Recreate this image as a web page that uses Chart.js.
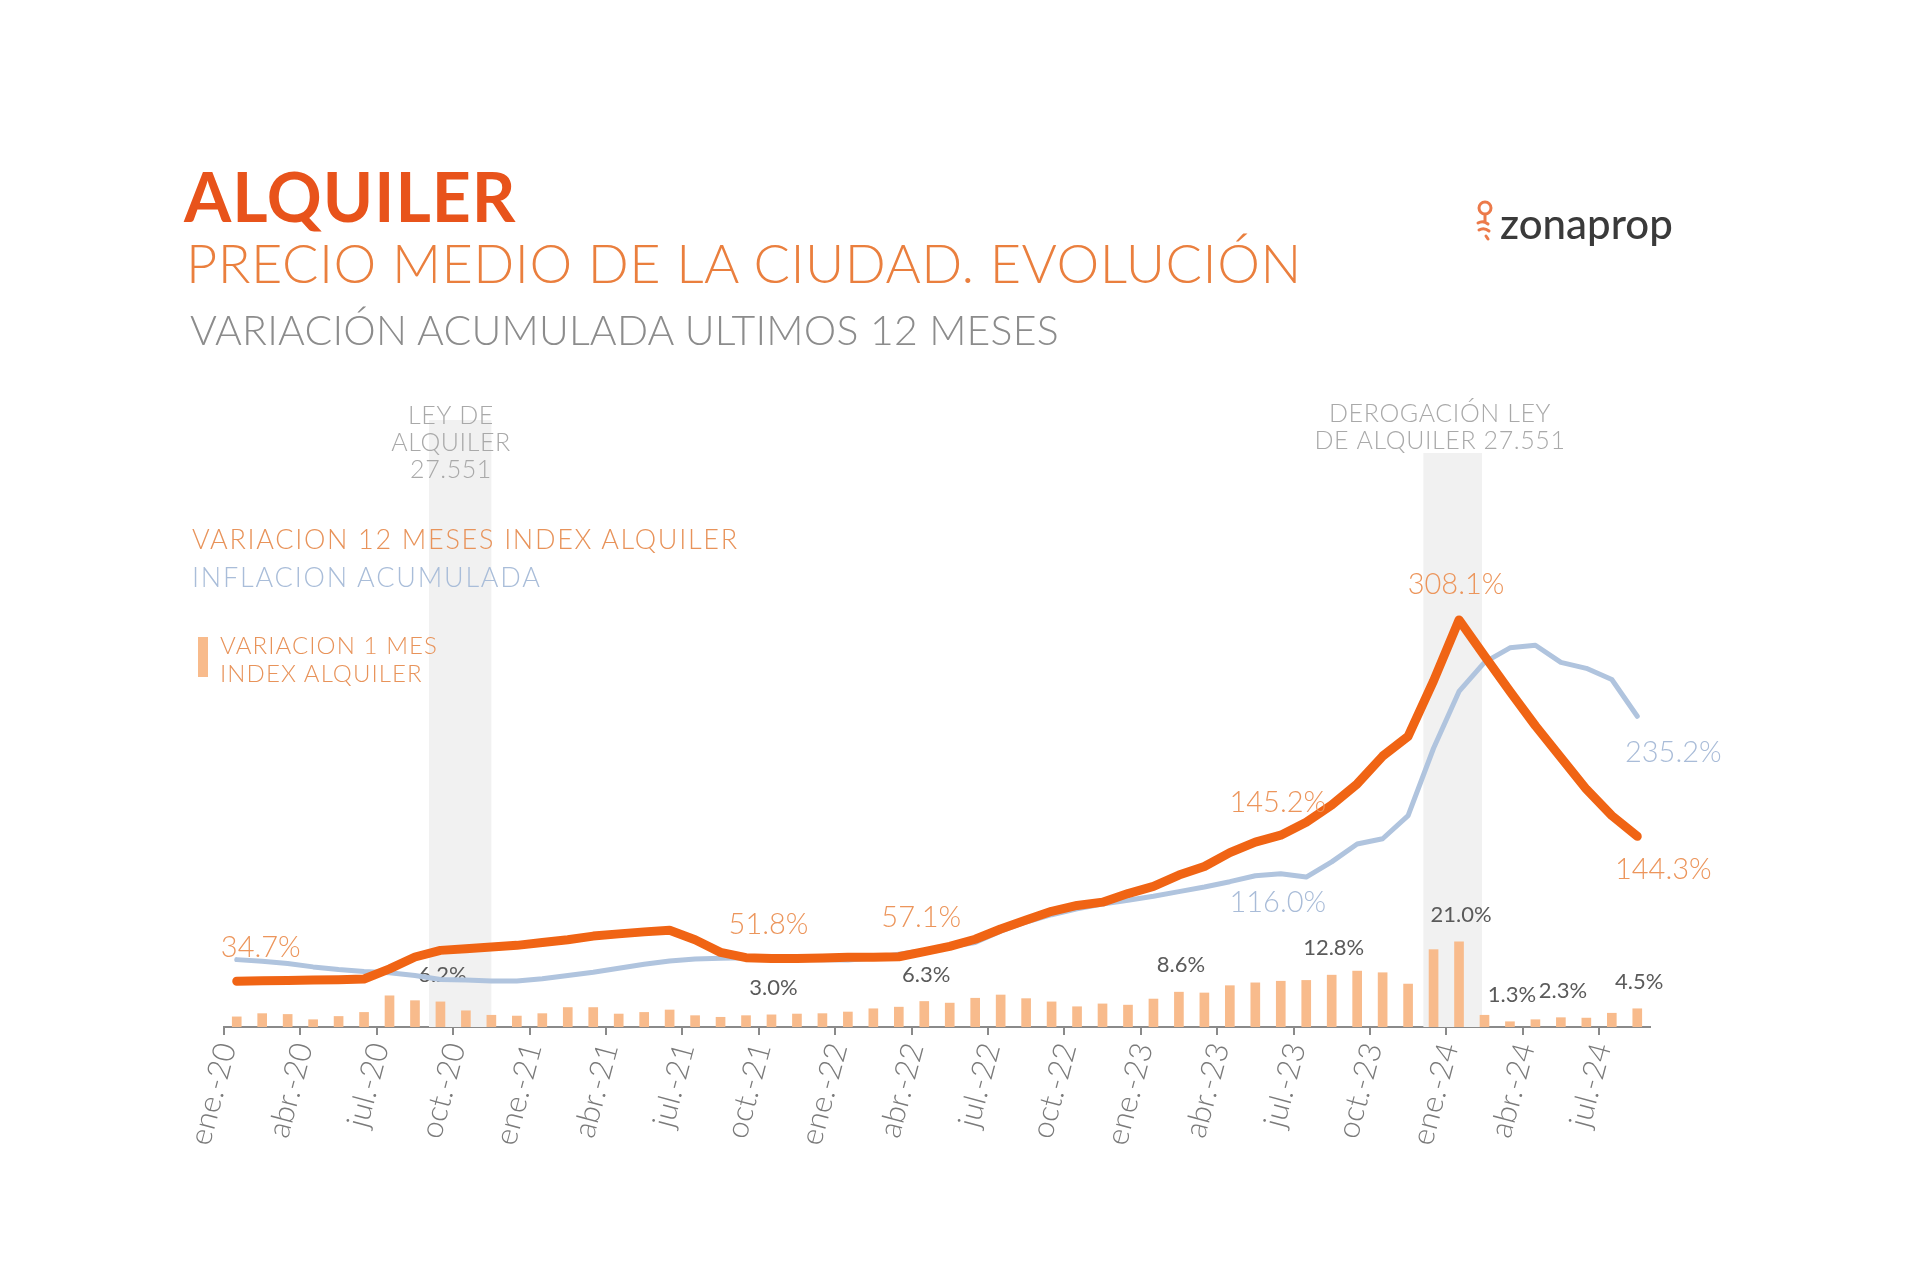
<!DOCTYPE html>
<html lang="es">
<head>
<meta charset="utf-8">
<title>Alquiler - precio medio de la ciudad</title>
<script src="https://cdn.jsdelivr.net/npm/chart.js@4.4.1/dist/chart.umd.min.js"></script>
<style>
  html, body { margin: 0; padding: 0; background: #fff; }
  #page { position: relative; width: 1920px; height: 1277px; overflow: hidden; font-family: Lato, sans-serif; }
  #chart { position: absolute; left: 0; top: 0; }
  .txt { position: absolute; white-space: nowrap; line-height: 1; }
  #t1 { left: 184px; top: 162px; font-size: 68px; font-weight: 700; color: #e8531b; letter-spacing: 1px; }
  #t2 { left: 186px; top: 236px; font-size: 54px; font-weight: 300; color: #ea7f3e; letter-spacing: 0.5px; }
  #t3 { left: 190px; top: 309px; font-size: 41px; font-weight: 300; color: #8c8c8c; letter-spacing: 0.2px; }
  #lg1 { left: 192px; top: 525px; font-size: 27px; font-weight: 300; color: #e8935a; letter-spacing: 1.7px; }
  #lg2 { left: 192px; top: 563px; font-size: 27px; font-weight: 300; color: #a9bdd9; letter-spacing: 1.8px; }
  #lg3 { left: 220px; top: 631px; font-size: 24px; font-weight: 300; color: #e8935a; line-height: 28px; letter-spacing: 1.1px; }
  #lgbox { position: absolute; left: 198px; top: 637px; width: 10px; height: 40px; background: #f8bb8c; }
  #logo { position: absolute; left: 1474px; top: 199px; height: 50px; }
  #logo svg { position: absolute; left: 0; top: 0; }
  #logo span { position: absolute; left: 26px; top: 3px; font-size: 42px; font-weight: 500; color: #3a3a3a; line-height: 1; white-space: nowrap; }
</style>
</head>
<body>
<div id="page">
  <canvas id="chart" width="1920" height="1277"></canvas>
  <div class="txt" id="t1">ALQUILER</div>
  <div class="txt" id="t2">PRECIO MEDIO DE LA CIUDAD. EVOLUCIÓN</div>
  <div class="txt" id="t3">VARIACIÓN ACUMULADA ULTIMOS 12 MESES</div>
  <div class="txt" id="lg1">VARIACION 12 MESES INDEX ALQUILER</div>
  <div class="txt" id="lg2">INFLACION ACUMULADA</div>
  <div id="lgbox"></div>
  <div class="txt" id="lg3">VARIACION 1 MES<br>INDEX ALQUILER</div>
  <div id="logo">
    <svg width="24" height="46" viewBox="0 0 24 46">
      <circle cx="11" cy="9" r="6" fill="none" stroke="#ec7a4a" stroke-width="3"/>
      <path d="M11 16 L11 22 M4 24 Q9 21 14 25 M5 31 Q10 28 15 32 M12 37 L14 40" fill="none" stroke="#ec7a4a" stroke-width="3" stroke-linecap="round"/>
    </svg>
    <span>zonaprop</span>
  </div>
</div>
<script>
// meses (ene.-20 ... ago.-24)
const months = [
  "ene.-20", "feb.-20", "mar.-20", "abr.-20", "may.-20", "jun.-20", "jul.-20", "ago.-20", "sept.-20", "oct.-20", "nov.-20", "dic.-20",
  "ene.-21", "feb.-21", "mar.-21", "abr.-21", "may.-21", "jun.-21", "jul.-21", "ago.-21", "sept.-21", "oct.-21", "nov.-21", "dic.-21",
  "ene.-22", "feb.-22", "mar.-22", "abr.-22", "may.-22", "jun.-22", "jul.-22", "ago.-22", "sept.-22", "oct.-22", "nov.-22", "dic.-22",
  "ene.-23", "feb.-23", "mar.-23", "abr.-23", "may.-23", "jun.-23", "jul.-23", "ago.-23", "sept.-23", "oct.-23", "nov.-23", "dic.-23",
  "ene.-24", "feb.-24", "mar.-24", "abr.-24", "may.-24", "jun.-24", "jul.-24", "ago.-24"
];

// variacion 12 meses index alquiler (%)
const rentYoY = [
  34.7, 35.0, 35.2, 35.5, 35.8, 36.3, 44.0, 53.0, 58.0, 59.3,
  60.5, 61.8, 64.0, 66.1, 68.8, 70.5, 72.0, 73.2, 66.0, 56.5,
  52.5, 51.8, 51.8, 52.3, 52.8, 52.8, 53.2, 57.1, 61.0, 66.4,
  74.2, 81.0, 87.6, 92.0, 94.5, 101.0, 106.5, 115.0, 121.5, 132.0,
  140.0, 145.2, 155.0, 168.0, 184.0, 205.0, 220.0, 262.0, 308.1, 281.0,
  254.0, 228.0, 204.0, 180.0, 160.0, 144.3
];

// inflacion acumulada 12 meses (%)
const inflationYoY = [
  51.0, 49.8, 48.0, 45.5, 43.5, 42.0, 41.0, 39.0, 36.0, 35.5,
  34.8, 34.8, 36.5, 39.0, 41.5, 44.5, 47.5, 50.0, 51.5, 52.0,
  52.5, 52.0, 51.2, 50.9, 50.7, 52.3, 55.0, 58.0, 60.7, 64.0,
  72.5, 79.5, 85.0, 89.5, 93.0, 96.0, 99.0, 102.5, 106.0, 110.0,
  114.5, 116.0, 113.5, 125.0, 138.5, 142.5, 160.0, 211.0, 254.0, 276.0,
  287.0, 289.0, 276.0, 271.5, 263.0, 235.2
];

// variacion 1 mes index alquiler (%)
const rentMoM = [
  2.5, 3.3, 3.1, 1.8, 2.6, 3.6, 7.7, 6.5, 6.2, 4.0,
  2.9, 2.7, 3.3, 4.8, 4.8, 3.2, 3.6, 4.2, 2.8, 2.4,
  2.8, 3.0, 3.2, 3.3, 3.7, 4.5, 4.9, 6.3, 5.9, 7.1,
  7.9, 7.0, 6.2, 5.0, 5.7, 5.4, 6.9, 8.6, 8.4, 10.2,
  10.9, 11.3, 11.5, 12.8, 13.8, 13.4, 10.6, 19.1, 21.0, 2.9,
  1.3, 1.8, 2.3, 2.2, 3.4, 4.5
];

// meses con etiqueta
const barLabelIdx = [8, 21, 27, 37, 43, 48, 50, 52, 55];
const rentLabelIdx = [0, 21, 27, 41, 48, 55];
const inflationLabelIdx = [41, 55];

// eventos marcados con franja gris (indices de mes)
const events = [
  { from: 7.55, to: 10.0, top: 420, textX: 451, textY: 416, lines: ["LEY DE", "ALQUILER", "27.551"] },
  { from: 46.6, to: 48.9, top: 453, textX: 1440, textY: 414, lines: ["DEROGACIÓN LEY", "DE ALQUILER 27.551"] }
];

// desplazamiento de etiquetas de linea (px)
const rentLabelPos = { 0: [24, -34], 21: [-3, -34], 27: [-3, -34], 41: [-3, -33], 48: [-3, -35], 55: [26, 33] };
const inflationLabelPos = { 41: [-3, 29], 55: [36, 36] };

const fmt = v => v.toFixed(1) + "%";

const annotations = {
  id: "annotations",
  beforeDatasetsDraw(chart) {
    const { ctx, chartArea, scales } = chart;
    ctx.save();
    events.forEach(ev => {
      const x1 = scales.x.getPixelForValue(ev.from);
      const x2 = scales.x.getPixelForValue(ev.to);
      ctx.fillStyle = "#f1f1f1";
      ctx.fillRect(x1, ev.top, x2 - x1, chartArea.bottom - ev.top);
    });
    ctx.font = "300 25px Lato";
    ctx.letterSpacing = "0.6px";
    ctx.fillStyle = "#a9a9a9";
    ctx.textAlign = "center";
    ctx.textBaseline = "middle";
    events.forEach(ev => {
      ev.lines.forEach((t, k) => ctx.fillText(t, ev.textX, ev.textY + k * 27));
    });
    ctx.restore();
  },
  afterDatasetDraw(chart, args) {
    if (args.index !== 0) return;
    const ctx = chart.ctx;
    const meta = chart.getDatasetMeta(0);
    ctx.save();
    ctx.font = "400 22px Lato";
    ctx.fillStyle = "#5a5a5a";
    ctx.textAlign = "center";
    ctx.textBaseline = "middle";
    barLabelIdx.forEach(i => {
      const el = meta.data[i];
      ctx.fillText(fmt(rentMoM[i]), el.x + 2, el.y - 27);
    });
    ctx.restore();
  },
  afterDatasetsDraw(chart) {
    const ctx = chart.ctx;
    ctx.save();
    ctx.font = "300 29px Lato";
    ctx.textAlign = "center";
    ctx.textBaseline = "middle";
    const put = (dsIndex, idxs, pos, values, color) => {
      const meta = chart.getDatasetMeta(dsIndex);
      ctx.fillStyle = color;
      idxs.forEach(i => {
        const el = meta.data[i];
        ctx.fillText(fmt(values[i]), el.x + pos[i][0], el.y + pos[i][1]);
      });
    };
    put(2, rentLabelIdx, rentLabelPos, rentYoY, "#ec955b");
    put(1, inflationLabelIdx, inflationLabelPos, inflationYoY, "#a9bcd8");
    ctx.restore();
  }
};

function draw() {
  const ctx = document.getElementById("chart").getContext("2d");
  new Chart(ctx, {
    type: "bar",
    data: {
      labels: months,
      datasets: [
        {
          label: "VARIACION 1 MES INDEX ALQUILER",
          data: rentMoM,
          yAxisID: "y2",
          backgroundColor: "#f8bb8c",
          barThickness: 9,
          order: 3,
        },
        {
          type: "line",
          label: "INFLACION ACUMULADA",
          data: inflationYoY,
          yAxisID: "y",
          borderColor: "#b0c4de",
          borderWidth: 5,
          pointRadius: 0,
          tension: 0,
          borderCapStyle: "round",
          borderJoinStyle: "round",
          order: 2,
        },
        {
          type: "line",
          label: "VARIACION 12 MESES INDEX ALQUILER",
          data: rentYoY,
          yAxisID: "y",
          borderColor: "#f06414",
          borderWidth: 9,
          pointRadius: 0,
          tension: 0,
          borderCapStyle: "round",
          borderJoinStyle: "round",
          order: 1,
        },
      ],
    },
    options: {
      responsive: false,
      animation: false,
      devicePixelRatio: 1,
      layout: {
        padding: { left: 224, right: 270, top: 400, bottom: 130 },
      },
      plugins: {
        legend: { display: false },
        tooltip: { enabled: false },
      },
      scales: {
        x: {
          offset: true,
          grid: {
            offset: true,
            drawOnChartArea: false,
            drawTicks: true,
            tickLength: 8,
            lineWidth: 2,
            color: c => (c.index % 3 === 0 ? "#8a8a8a" : "rgba(0,0,0,0)"),
          },
          border: { display: true, color: "#8a8a8a", width: 2 },
          ticks: {
            autoSkip: false,
            minRotation: 75,
            maxRotation: 75,
            labelOffset: -10,
            padding: 4,
            color: "#7a7a7a",
            font: { family: "Lato", size: 31, weight: 300 },
            callback: (v, i) => (i % 3 === 0 ? months[i] : ""),
          },
          afterFit: s => { s.height = 120; },
        },
        y: {
          display: false,
          min: 0,
          max: 474.6,
        },
        y2: {
          display: false,
          min: 0,
          max: 154.8,
        },
      },
    },
    plugins: [annotations],
  });
}

document.fonts.load("300 20px Lato").then(() => document.fonts.load("400 20px Lato")).then(draw, draw);
</script>
</body>
</html>
